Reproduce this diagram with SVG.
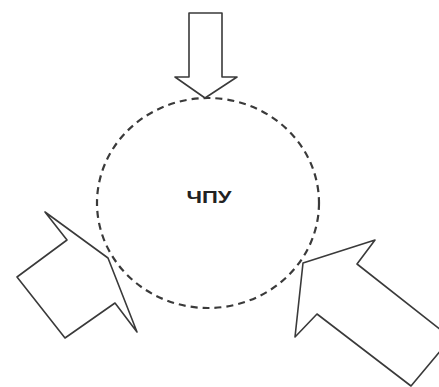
<svg xmlns="http://www.w3.org/2000/svg" width="439" height="387" viewBox="0 0 439 387">
  <style>
    .arrow { fill: #fff; stroke: #3a3a3a; stroke-width: 1.6; stroke-linejoin: round; }
    .ring { fill: none; stroke: #3a3a3a; stroke-width: 2.2; stroke-dasharray: 7 5; }
    .label { font-family: "Liberation Sans", Arial, sans-serif; font-weight: bold; font-size: 16px; fill: #222; }
  </style>
  <rect width="439" height="387" fill="#fff"/>

  <g id="controller">
    <ellipse class="ring" cx="208" cy="203" rx="111" ry="105"/>
    <text class="label" x="209" y="203" text-anchor="middle" textLength="45" lengthAdjust="spacingAndGlyphs">ЧПУ</text>
  </g>

  <g id="connectors">
    <g id="arrow-top">
      <polygon class="arrow" points="189,13 222,13 222,77 237,77 205,98 175,77 189,77"/>
    </g>
    <g id="arrow-left">
      <polygon class="arrow" points="45,212 108,258 137,332 115,303 65,338 17,277 67,240"/>
    </g>
    <g id="arrow-right">
      <polygon class="arrow" points="303,263 375,240 357,264 451,338 411,386 317,314 295,337"/>
    </g>
  </g>
</svg>
